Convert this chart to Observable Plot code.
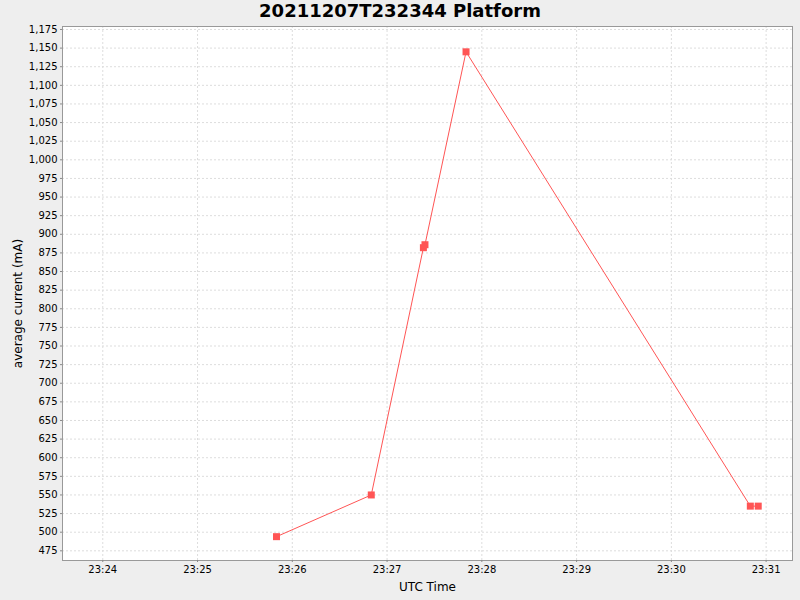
<!DOCTYPE html>
<html>
<head>
<meta charset="utf-8">
<script src="https://cdn.jsdelivr.net/npm/d3@7"></script>
<script src="https://cdn.jsdelivr.net/npm/@observablehq/plot@0.6"></script>
<style>
  html, body { margin: 0; padding: 0; background: #eeeeee; width: 800px; height: 600px; overflow: hidden; }
  #title { height: 25px; line-height: 25px; text-align: center; font: bold 18px "DejaVu Sans", sans-serif; color: #000; }
  svg { display: block; overflow: visible; }
</style>
</head>
<body>
<div id="title">20211207T232344 Platform</div>
<div id="chart"></div>
<script>
const times = ["2021-12-07T23:25:50Z", "2021-12-07T23:26:50Z", "2021-12-07T23:27:23Z", "2021-12-07T23:27:24Z", "2021-12-07T23:27:50Z", "2021-12-07T23:30:50Z", "2021-12-07T23:30:55Z"];
const currents = [494, 550, 882, 886, 1145, 535, 535];
const xTickTimes = ["2021-12-07T23:24:00Z", "2021-12-07T23:25:00Z", "2021-12-07T23:26:00Z", "2021-12-07T23:27:00Z", "2021-12-07T23:28:00Z", "2021-12-07T23:29:00Z", "2021-12-07T23:30:00Z", "2021-12-07T23:31:00Z"];
const yTickValues = [475, 500, 525, 550, 575, 600, 625, 650, 675, 700, 725, 750, 775, 800, 825, 850, 875, 900, 925, 950, 975, 1000, 1025, 1050, 1075, 1100, 1125, 1150, 1175];
const xLabel = "UTC Time";
const yLabel = "average current (mA)";

const data = times.map((t, i) => ({time: new Date(t), value: currents[i]}));
const xTicks = xTickTimes.map(t => new Date(t));

const color = "#ff5555";
const gridStyle = {stroke: "#dddddd", strokeOpacity: 1, strokeDasharray: "2,2", strokeWidth: 1};

const chart = Plot.plot({
  width: 800,
  height: 575,
  marginTop: 1,
  marginBottom: 40,
  marginLeft: 62,
  marginRight: 8,
  style: {background: "transparent", fontFamily: "DejaVu Sans, sans-serif", fontSize: "10px", color: "#000"},
  x: {type: "utc", domain: [new Date("2021-12-07T23:23:34.5Z"), new Date("2021-12-07T23:31:16.7Z")]},
  y: {domain: [462, 1179]},
  marks: [
    Plot.frame({fill: "white", stroke: "none"}),
    Plot.gridX(xTicks, gridStyle),
    Plot.gridY(yTickValues, gridStyle),
    Plot.frame({stroke: "#999999", strokeWidth: 1}),
    Plot.axisY(yTickValues, {tickFormat: d3.format(","), tickSize: 2, tickPadding: 3, stroke: "#888888", fill: "#000", label: null}),
    Plot.axisX(xTicks, {tickFormat: d3.utcFormat("%H:%M"), tickSize: 2, tickPadding: 3, stroke: "#888888", fill: "#000", label: null}),
    Plot.line(data, {x: "time", y: "value", stroke: color, strokeWidth: 1}),
    Plot.dot(data, {x: "time", y: "value", symbol: "square", r: 3.95, fill: color, stroke: "none"}),
    Plot.text([xLabel], {frameAnchor: "bottom", dy: 27, lineAnchor: "middle", textAnchor: "middle", fontSize: 12, fill: "#000"}),
    Plot.text([yLabel], {frameAnchor: "left", dx: -44, dy: 10, rotate: -90, lineAnchor: "middle", textAnchor: "middle", fontSize: 12, fill: "#000"})
  ]
});
document.getElementById("chart").appendChild(chart);
</script>
</body>
</html>
